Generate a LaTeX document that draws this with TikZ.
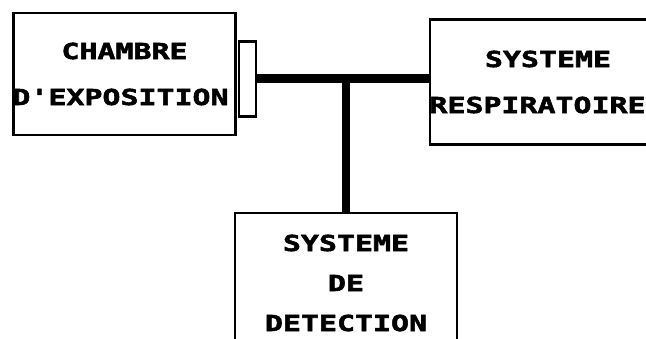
\documentclass[tikz,border=0pt]{standalone}
\usepackage{fontspec}
\newfontfamily\plotfont{DejaVu Sans Mono}[FakeStretch=1.36,FakeBold=2.5]
\usetikzlibrary{positioning}

\begin{document}
\begin{tikzpicture}[x=1pt,y=-1pt]
\tikzset{bloc/.style={rectangle,draw,line width=2.5pt,align=center,inner sep=0pt,minimum width=222pt,font=\plotfont\bfseries\fontsize{22}{46}\selectfont},
  bus/.style={line width=9pt}}
\useasboundingbox (0,0) rectangle (646,339);
\clip (0,0) rectangle (646,339);
\node[bloc,minimum height=122pt](chambre) at (124.5,74){CHAMBRE\\\makebox[0pt]{\hspace*{-8pt}D'EXPOSITION}};
\node[draw,line width=2.5pt,minimum width=17pt,minimum height=75pt,inner sep=0pt](port) at (247.5,79){};
\node[bloc,minimum height=125pt](respir) at (541,82){\hspace*{14pt}SYSTEME\\\makebox[0pt]{\hspace*{-7pt}RESPIRATOIRE}};
\node[bloc,minimum height=140pt,font=\plotfont\bfseries\fontsize{22}{40}\selectfont](detect) at (346,283){SYSTEME\\DE\\DETECTION};
\draw[bus](port.east) -- (port.east -| respir.west);
\draw[bus,line width=8pt](detect.north) -- (detect.north |- port.east);
\end{tikzpicture}
\end{document}
